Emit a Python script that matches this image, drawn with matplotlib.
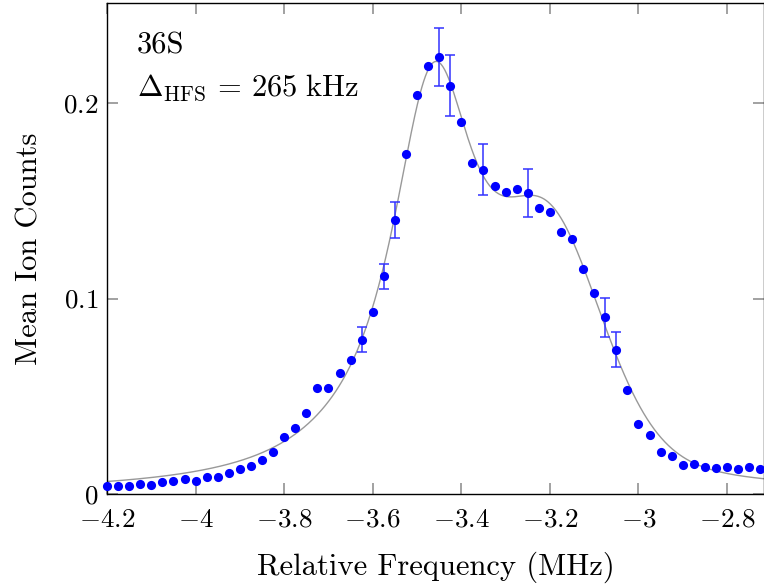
import numpy as np
import matplotlib
matplotlib.use("Agg")
import matplotlib.pyplot as plt

plt.rcParams['font.family'] = ['cmr10', 'DejaVu Serif']
plt.rcParams['mathtext.fontset'] = 'cm'
plt.rcParams['axes.formatter.use_mathtext'] = True

# measured points (MHz, mean ion counts)
freq = [-4.2, -4.175, -4.15, -4.125, -4.1, -4.075, -4.05, -4.025, -4.0, -3.975,
        -3.95, -3.925, -3.9, -3.875, -3.85, -3.825, -3.8, -3.775, -3.75, -3.725,
        -3.7, -3.675, -3.65, -3.625, -3.6, -3.575, -3.55, -3.525, -3.5, -3.475,
        -3.45, -3.425, -3.4, -3.375, -3.35, -3.325, -3.3, -3.275, -3.25, -3.225,
        -3.2, -3.175, -3.15, -3.125, -3.1, -3.075, -3.05, -3.025, -3.0, -2.975,
        -2.95, -2.925, -2.9, -2.875, -2.85, -2.825, -2.8, -2.775, -2.75, -2.725]
counts = [0.0042, 0.0042, 0.0041, 0.0053, 0.0048, 0.0060, 0.0068, 0.0078, 0.0068, 0.0085,
          0.0087, 0.0105, 0.0126, 0.0143, 0.0172, 0.0215, 0.0290, 0.0338, 0.0413, 0.0540,
          0.0540, 0.0617, 0.0687, 0.0790, 0.0932, 0.1114, 0.1402, 0.1738, 0.2041, 0.2191,
          0.2236, 0.2089, 0.1904, 0.1693, 0.1659, 0.1575, 0.1543, 0.1559, 0.1540, 0.1461,
          0.1444, 0.1339, 0.1304, 0.1149, 0.1030, 0.0905, 0.0738, 0.0532, 0.0358, 0.0300,
          0.0216, 0.0194, 0.0150, 0.0155, 0.0137, 0.0133, 0.0140, 0.0129, 0.0140, 0.0126]

# error bars only on a few points
err_idx = [23, 25, 26, 30, 31, 34, 38, 45, 46]
err_val = [0.0066, 0.0065, 0.0090, 0.0148, 0.0155, 0.0130, 0.0122, 0.0100, 0.0090]

# fit: two pseudo-voigt peaks (centre, hwhm, height, lorentz fraction)
fit_x0 = [-3.4636, -3.1983]
fit_g = [0.1224, 0.1445]
fit_a = [0.2068, 0.1102]
fit_eta = [1.06, 0.2228]


def pvoigt(x, x0, g, a, eta):
    u = ((x - x0) / g) ** 2
    return a * (eta / (1 + u) + (1 - eta) * np.exp(-np.log(2) * u))


xf = np.linspace(-4.25, -2.65, 800)
yf = np.zeros_like(xf)
for x0, g, a, eta in zip(fit_x0, fit_g, fit_a, fit_eta):
    yf += pvoigt(xf, x0, g, a, eta)

fig = plt.figure(figsize=(7.64, 5.86), dpi=100)
ax = fig.add_axes([107 / 764, 92 / 586, 1 - 107 / 764, 491 / 586])

ax.plot(xf, yf, color='#999999', lw=1.0, zorder=2)

ex = [freq[i] for i in err_idx]
ey = [counts[i] for i in err_idx]
ax.errorbar(ex, ey, yerr=err_val, fmt='none', ecolor='#3333ff', elinewidth=1.1,
            capsize=3.5, capthick=1.1, zorder=3)
ax.plot(freq, counts, 'o', color='blue', ms=6.6, mec='none', zorder=4, clip_on=False)

ax.set_xlim(-4.2, -2.7165)
ax.set_ylim(0, 0.2512)
ax.set_xticks([-4.2, -4, -3.8, -3.6, -3.4, -3.2, -3, -2.8])
ax.set_xticklabels(['$-4.2$', '$-4$', '$-3.8$', '$-3.6$', '$-3.4$', '$-3.2$', '$-3$', '$-2.8$'])
ax.set_yticks([0, 0.1, 0.2])
ax.set_yticklabels(['$0$', '$0.1$', '$0.2$'])
ax.tick_params(direction='in', length=8, width=1.1, color='#888888',
               labelsize=19.5, top=True, right=True)
ax.tick_params(axis='x', pad=10)
ax.tick_params(axis='y', pad=6)
for s in ax.spines.values():
    s.set_linewidth(1.0)

ax.set_xlabel('Relative Frequency (MHz)', fontsize=22, labelpad=14)
ax.set_ylabel('Mean Ion Counts', fontsize=22, labelpad=14)

ax.text(0.0457, 0.897, '36S', transform=ax.transAxes, fontsize=22, va='baseline')
ax.text(0.0457, 0.811, r'$\Delta_{\mathrm{HFS}}\,=\,265\ \mathrm{kHz}$', transform=ax.transAxes,
        fontsize=22, va='baseline')

fig.savefig('out.png', dpi=100)
